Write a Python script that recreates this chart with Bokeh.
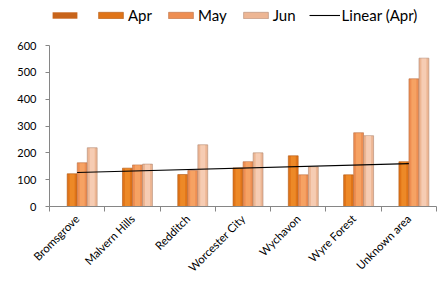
import numpy as np
from bokeh.plotting import figure
from bokeh.models import Range1d, FixedTicker, Legend, LegendItem
from bokeh.embed import file_html
from bokeh.resources import INLINE

categories = ["Bromsgrove", "Malvern Hills", "Redditch", "Worcester City",
              "Wychavon", "Wyre Forest", "Unknown area"]
blank = [0, 0, 0, 0, 0, 0, 0]
apr = [122, 143, 119, 144, 189, 118, 167]
may = [163, 155, 134, 167, 118, 275, 476]
jun = [219, 158, 230, 200, 148, 264, 553]
y_ticks = [0, 100, 200, 300, 400, 500, 600]

FONT = "Lato"
n = len(categories)
centers = np.arange(n) + 0.5
w = 1 / 5.5

p = figure(width=442, height=282, output_backend="svg", toolbar_location=None,
           x_range=Range1d(0, n), y_range=Range1d(0, 768),
           min_border_left=49, min_border_right=6, min_border_top=0,
           min_border_bottom=76)
p.background_fill_color = "white"
p.border_fill_color = "white"
p.outline_line_color = None
p.xgrid.visible = False
p.ygrid.visible = False

def bars(vals, off, outer, inner, edge):
    xs = centers + off
    r = p.vbar(x=xs, top=vals, width=w * 0.98, bottom=0,
               fill_color=outer, line_color=edge, line_width=0.6)
    p.vbar(x=xs, top=np.array(vals) - 1.5, width=w * 0.5, bottom=0,
           fill_color=inner, line_color=None, fill_alpha=0.8)
    return r

r_blank = p.vbar(x=centers - 1.5 * w, top=blank, width=w * 0.98,
                 fill_color="#C8641A", line_color=None)
r_apr = bars(apr, -0.5 * w, "#E07418", "#F08E2C", "#B05810")
r_may = bars(may, 0.5 * w, "#EE8E52", "#F8A868", "#B86C40")
r_jun = bars(jun, 1.5 * w, "#EDB694", "#F8D2BA", "#B08872")

coef = np.polyfit(np.arange(1, n + 1), apr, 1)
tx = np.array([1, n])
ty = np.polyval(coef, tx)
r_lin = p.line(x=tx - 0.5, y=ty, line_color="black", line_width=1.1)

# axes
xa = p.xaxis[0]
xa.ticker = FixedTicker(ticks=list(centers), minor_ticks=list(range(n + 1)))
xa.major_label_overrides = {float(c): lab for c, lab in zip(centers, categories)}
xa.major_tick_line_color = None
xa.minor_tick_line_color = "#868686"
xa.minor_tick_out = 5
xa.minor_tick_in = 0
xa.axis_line_color = "#868686"
xa.major_label_orientation = np.pi / 4
xa.major_label_text_font = FONT
xa.major_label_text_font_size = "11.3px"
xa.major_label_text_color = "#000000"
xa.major_label_standoff = 4

ya = p.yaxis[0]
ya.ticker = FixedTicker(ticks=y_ticks)
ya.bounds = (0, 600)
ya.minor_tick_line_color = None
ya.major_tick_line_color = "#868686"
ya.major_tick_out = 4
ya.major_tick_in = 0
ya.axis_line_color = "#868686"
ya.major_label_text_font = FONT
ya.major_label_text_font_size = "11px"
ya.major_label_text_color = "#000000"
ya.major_label_standoff = 9

legend = Legend(items=[
    LegendItem(label=" ", renderers=[r_blank]),
    LegendItem(label="Apr", renderers=[r_apr]),
    LegendItem(label="May", renderers=[r_may]),
    LegendItem(label="Jun", renderers=[r_jun]),
    LegendItem(label="Linear (Apr)", renderers=[r_lin]),
], orientation="horizontal", location=(0, 182))
legend.glyph_width = 31
legend.glyph_height = 8
legend.label_standoff = 2
legend.label_width = 0
legend.spacing = 13
legend.padding = 2
legend.margin = 0
legend.border_line_color = None
legend.background_fill_alpha = 0
legend.label_text_font = FONT
legend.label_text_font_size = "15px"
legend.label_text_color = "#000000"
legend.label_height = 14
p.add_layout(legend)

open("out.html", "w").write(file_html(p, INLINE))
